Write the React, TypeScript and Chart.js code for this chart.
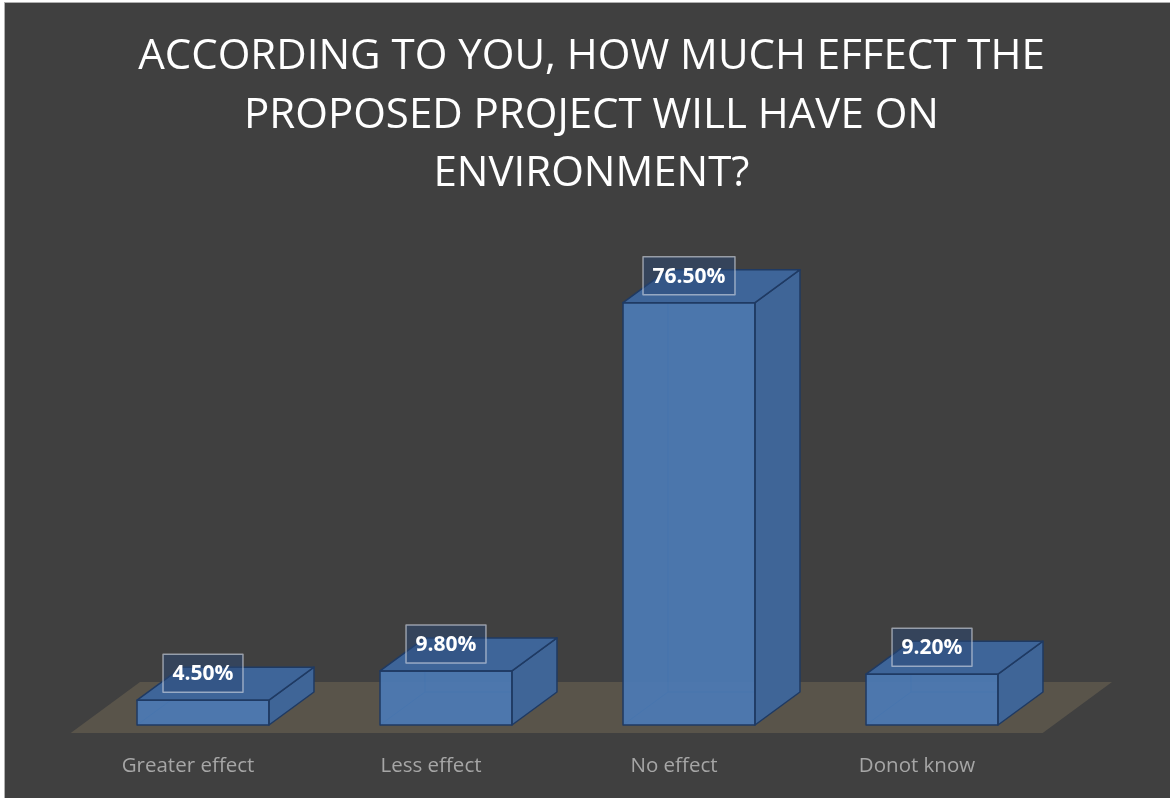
import React, { useEffect, useRef } from "react";
import { Chart, registerables } from "chart.js";

Chart.register(...registerables);

const titleLines = [
  "ACCORDING TO YOU, HOW MUCH EFFECT THE",
  "PROPOSED PROJECT WILL HAVE ON",
  "ENVIRONMENT?",
];
const categories = ["Greater effect", "Less effect", "No effect", "Donot know"];
const percentages = [4.5, 9.8, 76.5, 9.2];

// depth of each box, in pixels
const DEPTH_X = 45;
const DEPTH_Y = -33;

const FRONT = "rgba(76,123,181,0.92)";
const SIDE = "#3f6597";
const TOP = "#3e6599";
const EDGE = "#1f3a63";
const FLOOR = "#59544a";

const poly = (ctx: CanvasRenderingContext2D, pts: number[][], fill: string, stroke?: string) => {
  ctx.beginPath();
  ctx.moveTo(pts[0][0], pts[0][1]);
  for (let i = 1; i < pts.length; i++) ctx.lineTo(pts[i][0], pts[i][1]);
  ctx.closePath();
  ctx.fillStyle = fill;
  ctx.fill();
  if (stroke) {
    ctx.strokeStyle = stroke;
    ctx.lineWidth = 1.5;
    ctx.lineJoin = "round";
    ctx.stroke();
  }
};

// three-line heading, centred on the canvas
const heading = {
  id: "heading",
  afterDraw(chart: any) {
    const { ctx, width } = chart;
    ctx.save();
    ctx.font = "42px 'Open Sans'";
    ctx.fillStyle = "#ffffff";
    ctx.textAlign = "center";
    ctx.textBaseline = "alphabetic";
    titleLines.forEach((line, i) => {
      ctx.fillText(line, width / 2 + 4, 66 + i * 58.5);
    });
    ctx.restore();
  },
};

const boxes3d = {
  id: "boxes3d",
  beforeDatasetsDraw(chart: any) {
    const { ctx, chartArea } = chart;
    const bottom = chartArea.bottom;
    // floor plane under the bars
    const f0 = -0.24;
    const f1 = 1.3;
    ctx.save();
    poly(ctx, [
      [chartArea.left + DEPTH_X * f0, bottom + DEPTH_Y * f0],
      [chartArea.right + DEPTH_X * f0, bottom + DEPTH_Y * f0],
      [chartArea.right + DEPTH_X * f1, bottom + DEPTH_Y * f1],
      [chartArea.left + DEPTH_X * f1, bottom + DEPTH_Y * f1],
    ], FLOOR);
    // hidden back edges seen through the front faces
    const meta = chart.getDatasetMeta(0);
    meta.data.forEach((bar: any) => {
      const { x, y, base, width } = bar.getProps(["x", "y", "base", "width"], true);
      const l = x - width / 2;
      const r = x + width / 2;
      ctx.beginPath();
      ctx.moveTo(l, base);
      ctx.lineTo(l + DEPTH_X, base + DEPTH_Y);
      ctx.lineTo(r + DEPTH_X, base + DEPTH_Y);
      ctx.moveTo(l + DEPTH_X, base + DEPTH_Y);
      ctx.lineTo(l + DEPTH_X, y + DEPTH_Y);
      ctx.strokeStyle = "rgba(25,50,95,1)";
      ctx.lineWidth = 1;
      ctx.stroke();
    });
    ctx.restore();
  },
  afterDatasetsDraw(chart: any) {
    const { ctx } = chart;
    const meta = chart.getDatasetMeta(0);
    ctx.save();
    meta.data.forEach((bar: any, i: number) => {
      const { x, y, base, width } = bar.getProps(["x", "y", "base", "width"], true);
      const l = x - width / 2;
      const r = x + width / 2;
      // right side face
      poly(ctx, [
        [r, y], [r + DEPTH_X, y + DEPTH_Y], [r + DEPTH_X, base + DEPTH_Y], [r, base],
      ], SIDE, EDGE);
      // top face
      poly(ctx, [
        [l, y], [l + DEPTH_X, y + DEPTH_Y], [r + DEPTH_X, y + DEPTH_Y], [r, y],
      ], TOP, EDGE);
      // front outline
      ctx.strokeStyle = EDGE;
      ctx.lineWidth = 1.5;
      ctx.strokeRect(l, y, width, base - y);

      // value label in a framed box
      const text = percentages[i].toFixed(2) + "%";
      ctx.font = "bold 21px 'Open Sans'";
      const tw = ctx.measureText(text).width;
      const bw = tw + 19;
      const bh = 38;
      const cy = y - 27;
      ctx.fillStyle = "rgba(42,72,118,0.5)";
      ctx.fillRect(x - bw / 2, cy - bh / 2, bw, bh);
      ctx.strokeStyle = "rgba(215,220,230,0.6)";
      ctx.lineWidth = 1.5;
      ctx.strokeRect(x - bw / 2, cy - bh / 2, bw, bh);
      ctx.fillStyle = "#ffffff";
      ctx.textAlign = "center";
      ctx.textBaseline = "middle";
      ctx.fillText(text, x, cy + 1);
    });
    ctx.restore();
  },
};

export default function App() {
  const canvasRef = useRef<HTMLCanvasElement | null>(null);

  useEffect(() => {
    document.body.style.margin = "0";
    const canvas = canvasRef.current;
    if (!canvas) return;
    const chart = new Chart(canvas, {
      type: "bar",
      data: {
        labels: categories,
        datasets: [
          {
            data: percentages,
            backgroundColor: FRONT,
            borderWidth: 0,
            barPercentage: 0.543,
            categoryPercentage: 1,
          },
        ],
      },
      options: {
        animation: false,
        responsive: false,
        layout: { padding: { left: 76.5, right: 116.5, top: 280.4, bottom: 0 } },
        plugins: {
          legend: { display: false },
          tooltip: { enabled: false },
          title: { display: false },
        },
        scales: {
          x: {
            grid: { display: false, drawTicks: false },
            border: { display: false },
            ticks: {
              color: "#a6a6a6",
              font: { family: "'Open Sans'", size: 20.5 },
              padding: 29,
              labelOffset: -15,
            },
            afterFit: (scale: any) => {
              scale.height = 73;
            },
          },
          y: {
            display: false,
            min: 0,
            max: 80,
          },
        },
      },
      plugins: [boxes3d, heading],
    });
    return () => chart.destroy();
  }, []);

  return (
    <div style={{ width: 1170, height: 798, background: "#ffffff", position: "relative", overflow: "hidden" }}>
      <div
        style={{
          position: "absolute",
          left: 4,
          top: 2,
          width: 1166,
          height: 796,
          background: "#404040",
          borderLeft: "1px solid #b0b0b0",
          borderTop: "1px solid #b0b0b0",
        }}
      >
        <canvas ref={canvasRef} width={1165} height={795} style={{ display: "block" }} />
      </div>
    </div>
  );
}
